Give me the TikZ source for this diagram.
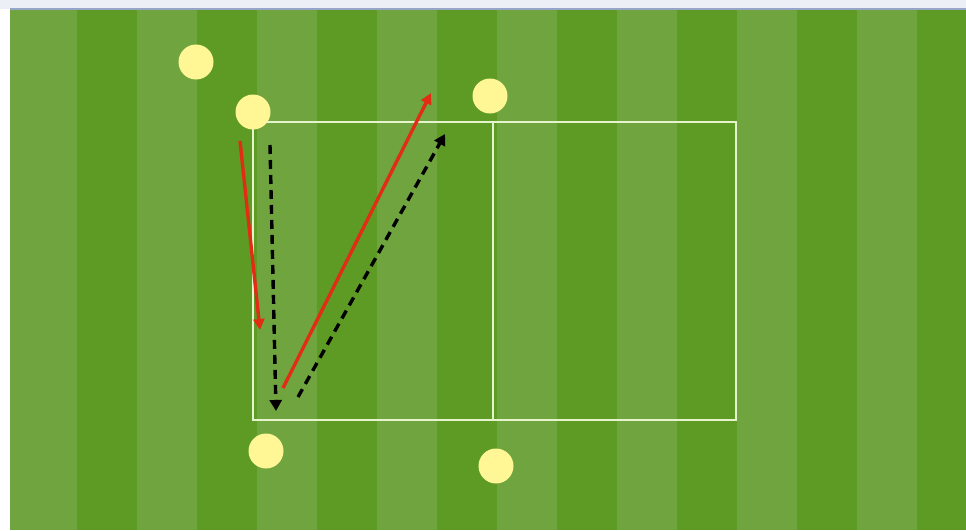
\documentclass[tikz,border=0pt]{standalone}
\usetikzlibrary{arrows.meta}
\definecolor{lightgrass}{RGB}{111,164,62}
\definecolor{darkgrass}{RGB}{94,155,36}
\definecolor{conecol}{RGB}{255,246,150}
\definecolor{chalk}{RGB}{230,244,205}
\definecolor{runred}{RGB}{225,45,20}
\definecolor{topband}{RGB}{236,240,246}
\definecolor{topline}{RGB}{150,165,200}
\tikzset{
  cone/.style={circle,fill=conecol,draw=none,minimum size=35pt,inner sep=0pt},
  chalkline/.style={draw=chalk,line width=2.8pt},
  redrun/.style={draw=runred,line width=3.4pt,-{Triangle[length=11pt,width=11pt]}},
  blackpass/.style={draw=black,line width=3.4pt,dash pattern=on 9pt off 6pt,-{Triangle[length=11pt,width=12pt]}}
}
\begin{document}
\begin{tikzpicture}[x=1pt,y=-1pt]
\useasboundingbox (0,0) rectangle (966,530);
% page borders
\fill[white] (0,0) rectangle (966,530);
\fill[topband] (0,0) rectangle (966,9);
\fill[topline] (10,8) rectangle (966,10);
% field
\fill[lightgrass] (10,10) rectangle (966,530);
\foreach \x in {77,197,317,437,557,677,797,917}{
  \fill[darkgrass] (\x,10) rectangle ({min(\x+60,966)},530);
}
% pitch markings
\draw[chalkline] (253,122) rectangle (736,420);
\draw[chalkline] (493,122) -- (493,420);
% cones
\node[cone] (c1) at (196,62) {};
\node[cone] (c2) at (253,112) {};
\node[cone] (c3) at (490,96) {};
\node[cone] (c4) at (266,451) {};
\node[cone] (c5) at (496,466) {};
% run / pass coordinates
\coordinate (r1s) at (240,141);
\coordinate (r1e) at (260,330);
\coordinate (p1s) at (270,145);
\coordinate (p1e) at (276,411);
\coordinate (r2s) at (283,388);
\coordinate (r2e) at (431,93);
\coordinate (p2s) at (298,397);
\coordinate (p2e) at (445,134);
\draw[redrun] (r1s) -- (r1e);
\draw[blackpass] (p1s) -- (p1e);
\draw[redrun] (r2s) -- (r2e);
\draw[blackpass] (p2s) -- (p2e);
\end{tikzpicture}
\end{document}
